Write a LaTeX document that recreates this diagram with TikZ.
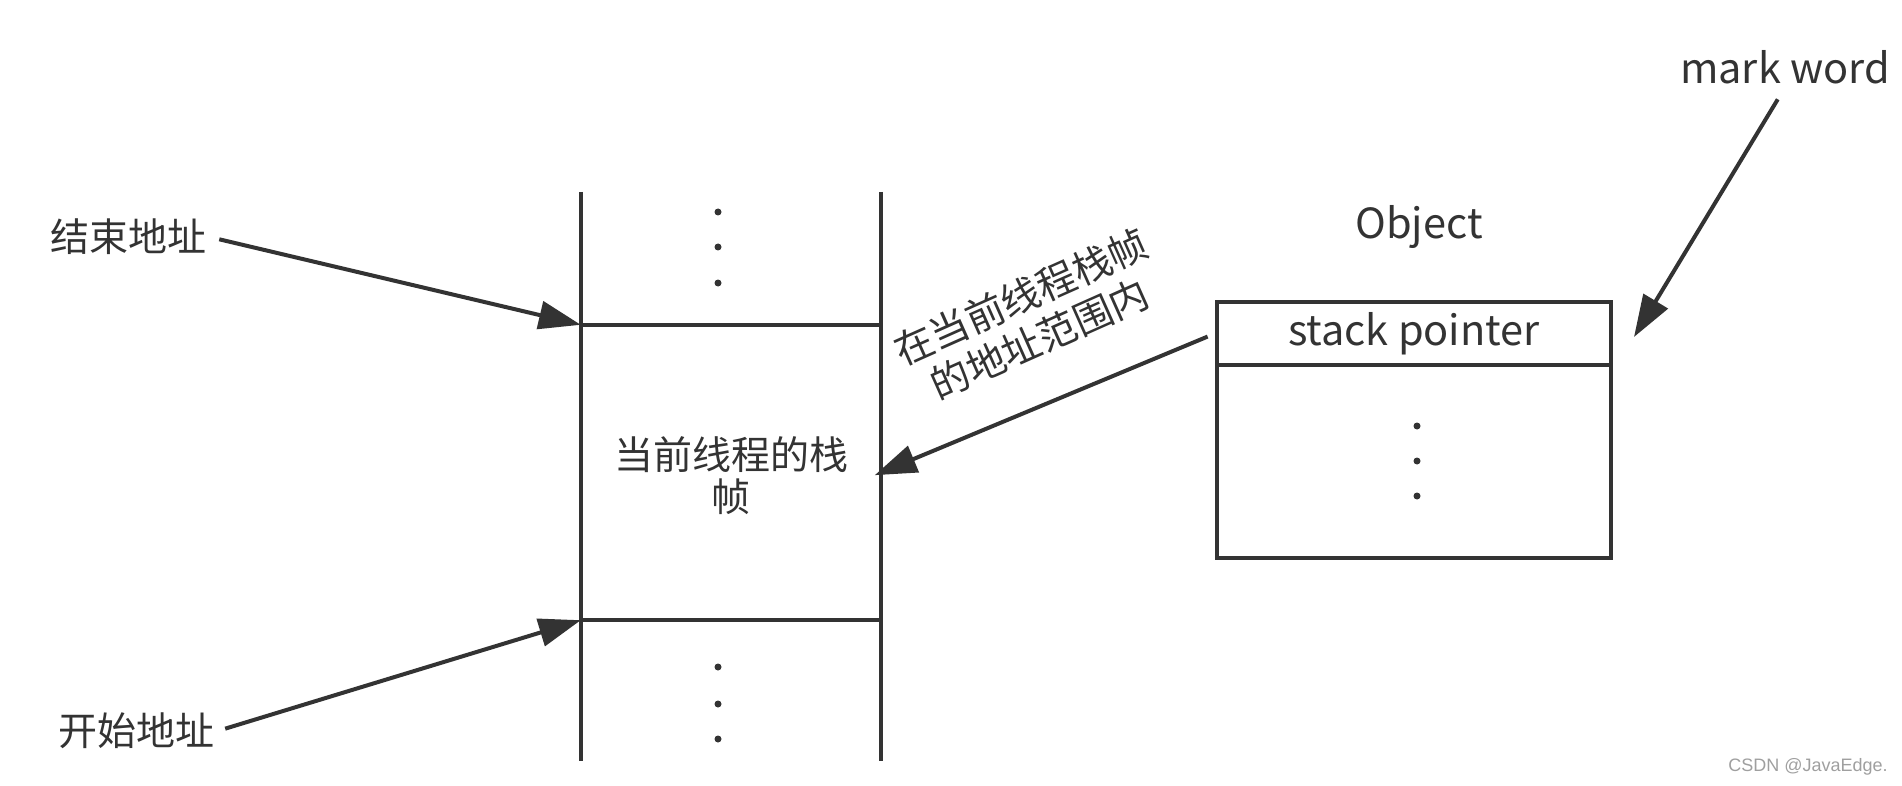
\documentclass[tikz,border=0pt]{standalone}
\usepackage{fontspec}
\setmainfont{Noto Sans CJK SC}
\newfontfamily\wmfont{Liberation Sans}
\usetikzlibrary{arrows.meta}
\definecolor{ink}{HTML}{333333}
\begin{document}
\begin{tikzpicture}[x=1pt,y=-1pt,
  line/.style={draw=ink, line width=4pt},
  arr/.style={draw=ink, line width=4pt, -{Triangle[length=42pt,width=28pt]}},
  cjk/.style={font=\fontsize{39}{42}\selectfont, text=ink},
  lat/.style={font=\fontsize{41.5}{48}\selectfont, text=ink},
  dotmark/.style={circle, fill=ink, inner sep=0pt, minimum size=7pt},
  boxpart/.style={draw=ink, line width=4pt, minimum width=394pt, inner sep=0pt}]
\useasboundingbox (0,0) rectangle (1902,786);

% stack frame
\node[minimum width=300pt, minimum height=295pt, inner sep=0pt] (frame) at (731,472.5) {};
\draw[line] (581,192) -- (581,761);
\draw[line] (881,192) -- (881,761);
\draw[line] (frame.north west) -- (frame.north east);
\draw[line] (frame.south west) -- (frame.south east);
\node[cjk, align=center] (frametext) at (731,476) {当前线程的栈\\帧};
\node[dotmark] (td1) at (718,212) {};
\node[dotmark] (td2) at (718,247) {};
\node[dotmark] (td3) at (718,283) {};
\node[dotmark] (bd1) at (718,667) {};
\node[dotmark] (bd2) at (718,704) {};
\node[dotmark] (bd3) at (718,739) {};

% address labels
\node[cjk] (endaddr) at (128,237) {结束地址};
\node[cjk] (startaddr) at (136,731) {开始地址};
\draw[arr, shorten <=10pt] (endaddr.east) -- (frame.north west);
\draw[arr, shorten <=8pt] (startaddr.east) -- (frame.south west);

% object
\node[lat] (objlabel) at (1419,227) {Object};
\node[boxpart, minimum height=63pt, lat] (sp) at (1414,333.5) {stack pointer};
\node[boxpart, minimum height=193pt] (objbody) at (1414,461.5) {};
\node[dotmark] (od1) at (1417,426) {};
\node[dotmark] (od2) at (1417,461) {};
\node[dotmark] (od3) at (1417,496) {};

\draw[arr, shorten <=8pt, shorten >=-7pt] (sp.west) -- (frame.east);
\node[cjk, rotate=24, align=center, font=\fontsize{39}{46}\selectfont] (note) at (1030,318) {在当前线程栈帧\\的地址范围内};

% mark word
\node[lat] (mark) at (1785,67) {mark word};
\coordinate (marktip) at (1634,337);
\draw[arr, shorten <=14pt] (mark.south) -- (marktip);

% watermark
\node[font=\wmfont\fontsize{18}{20}\selectfont, text=gray!75] (wm) at (1808,767) {CSDN @JavaEdge.};
\end{tikzpicture}
\end{document}
